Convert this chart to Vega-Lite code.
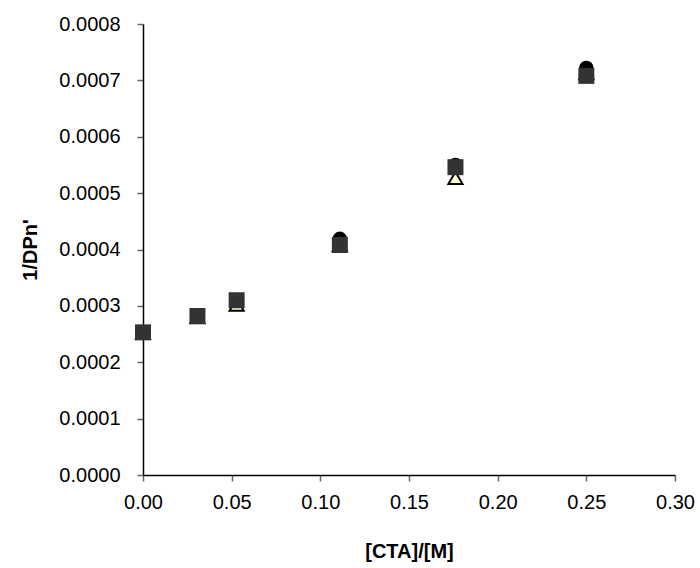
{
  "$schema": "https://vega.github.io/schema/vega-lite/v6.json",
  "width": 532,
  "height": 451,
  "autosize": {"type": "none"},
  "padding": {"left": 143, "top": 24, "right": 25, "bottom": 93},
  "background": "white",
  "config": {
    "view": {"stroke": null},
    "font": "Liberation Sans",
    "axis": {
      "grid": false,
      "domainColor": "black",
      "domainWidth": 1.5,
      "tickColor": "#666666",
      "tickSize": 6,
      "tickWidth": 1.5,
      "labelFont": "Liberation Sans",
      "labelFontSize": 20,
      "labelColor": "black",
      "titleFont": "Liberation Sans",
      "titleFontSize": 20,
      "titleFontWeight": "bold",
      "titleColor": "black"
    }
  },
  "data": {
    "values": [
      {"x": 0, "y": 0.000253, "s": "A"},
      {"x": 0.0307, "y": 0.000282, "s": "A"},
      {"x": 0.0528, "y": 0.00031, "s": "A"},
      {"x": 0.111, "y": 0.000419, "s": "A"},
      {"x": 0.1762, "y": 0.00055, "s": "A"},
      {"x": 0.25, "y": 0.000722, "s": "A"},
      {"x": 0, "y": 0.000252, "s": "B"},
      {"x": 0.0307, "y": 0.00028, "s": "B"},
      {"x": 0.0528, "y": 0.000302, "s": "B"},
      {"x": 0.111, "y": 0.000408, "s": "B"},
      {"x": 0.1762, "y": 0.000527, "s": "B"},
      {"x": 0.25, "y": 0.000713, "s": "B"},
      {"x": 0, "y": 0.000253, "s": "C"},
      {"x": 0.0307, "y": 0.000282, "s": "C"},
      {"x": 0.0528, "y": 0.00031, "s": "C"},
      {"x": 0.111, "y": 0.000408, "s": "C"},
      {"x": 0.1762, "y": 0.000546, "s": "C"},
      {"x": 0.25, "y": 0.000708, "s": "C"}
    ]
  },
  "encoding": {
    "x": {
      "field": "x", "type": "quantitative",
      "scale": {"domain": [0, 0.3], "nice": false, "zero": false},
      "axis": {"values": [0, 0.05, 0.1, 0.15, 0.2, 0.25, 0.3], "format": ".2f", "title": "[CTA]/[M]", "labelPadding": 11, "titlePadding": 29, "labelFlush": false}
    },
    "y": {
      "field": "y", "type": "quantitative",
      "scale": {"domain": [0, 0.0008], "nice": false},
      "axis": {"values": [0, 0.0001, 0.0002, 0.0003, 0.0004, 0.0005, 0.0006, 0.0007, 0.0008], "format": ".4f", "title": "1/DPn'", "labelPadding": 17, "titlePadding": 18, "labelFlush": false}
    }
  },
  "layer": [
    {
      "transform": [{"filter": "datum.s === 'A'"}],
      "mark": {"type": "point", "shape": "circle", "filled": true, "color": "black", "size": 210, "opacity": 1}
    },
    {
      "transform": [{"filter": "datum.s === 'B'"}],
      "mark": {"type": "point", "shape": "triangle-up", "filled": true, "fill": "#FFFFCC", "stroke": "black", "strokeWidth": 2, "size": 200, "opacity": 1}
    },
    {
      "transform": [{"filter": "datum.s === 'C'"}],
      "mark": {"type": "point", "shape": "square", "filled": true, "color": "#333333", "size": 256, "opacity": 1}
    }
  ]
}
